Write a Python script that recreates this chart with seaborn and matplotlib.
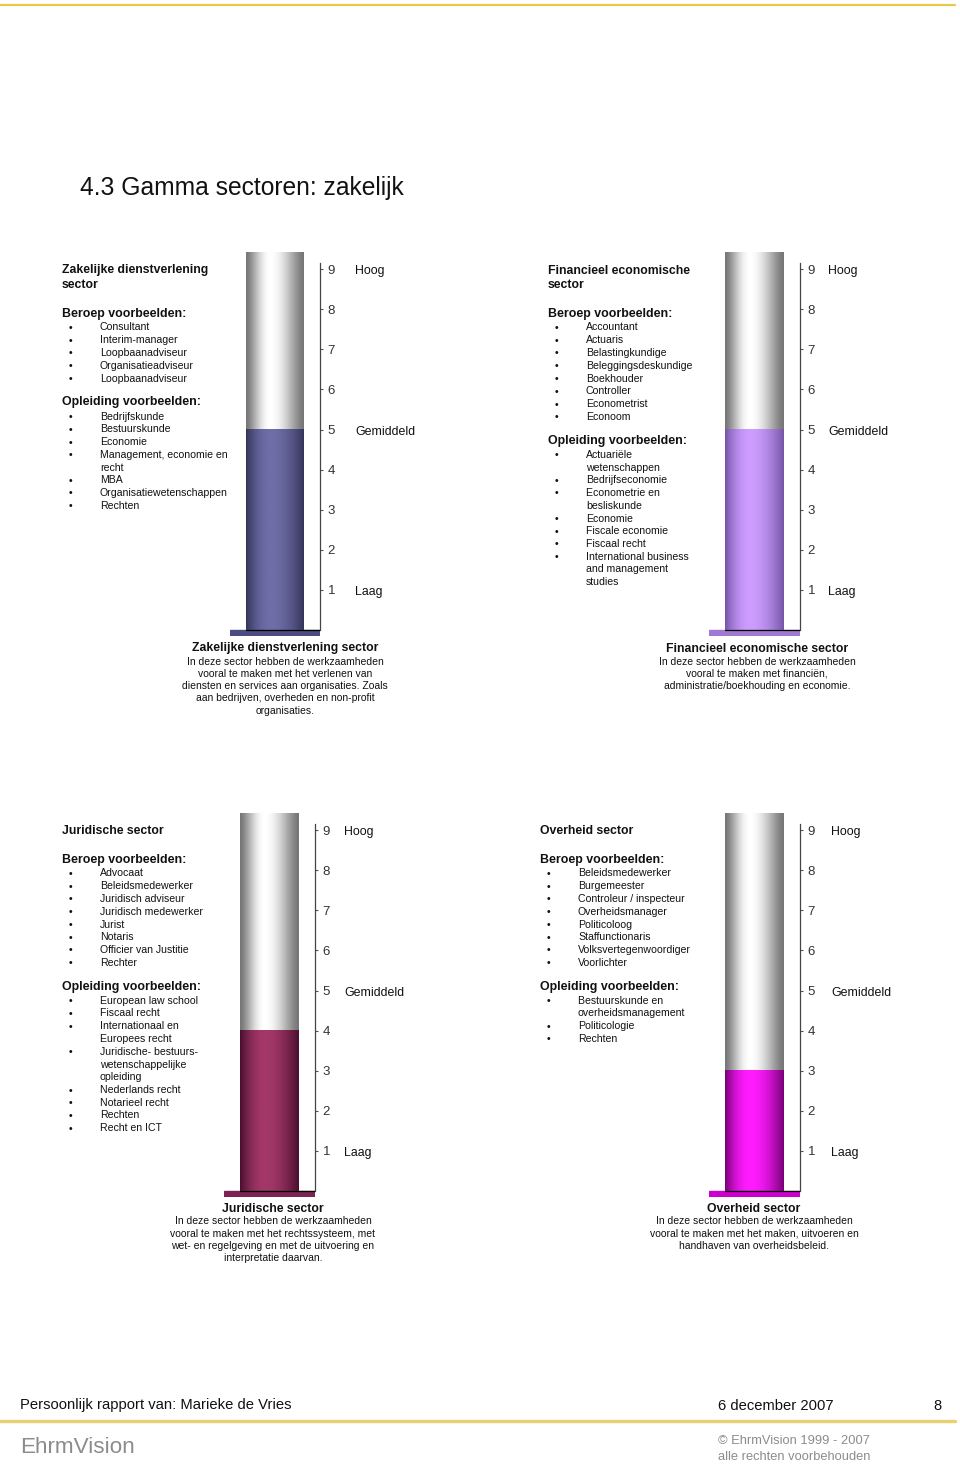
import numpy as np
import matplotlib
matplotlib.use("Agg")
import matplotlib.pyplot as plt
import matplotlib.transforms as mtransforms
from matplotlib.colors import LinearSegmentedColormap
import seaborn as sns

# ---- data -------------------------------------------------------------
sectors = ["Zakelijke dienstverlening sector", "Financieel economische sector",
           "Juridische sector", "Overheid sector"]
headers = ["Zakelijke dienstverlening\nsector", "Financieel economische\nsector",
           "Juridische sector", "Overheid sector"]
scores = [5, 5, 4, 3]
scale_ticks = [1, 2, 3, 4, 5, 6, 7, 8, 9]
level_values = [9, 5, 1]
level_labels = ["Hoog", "Gemiddeld", "Laag"]

beroepen = [
    ["Consultant", "Interim-manager", "Loopbaanadviseur", "Organisatieadviseur",
     "Loopbaanadviseur"],
    ["Accountant", "Actuaris", "Belastingkundige", "Beleggingsdeskundige",
     "Boekhouder", "Controller", "Econometrist", "Econoom"],
    ["Advocaat", "Beleidsmedewerker", "Juridisch adviseur", "Juridisch medewerker",
     "Jurist", "Notaris", "Officier van Justitie", "Rechter"],
    ["Beleidsmedewerker", "Burgemeester", "Controleur / inspecteur",
     "Overheidsmanager", "Politicoloog", "Staffunctionaris",
     "Volksvertegenwoordiger", "Voorlichter"],
]
opleidingen = [
    ["Bedrijfskunde", "Bestuurskunde", "Economie", "Management, economie en\nrecht",
     "MBA", "Organisatiewetenschappen", "Rechten"],
    ["Actuariële\nwetenschappen", "Bedrijfseconomie", "Econometrie en\nbesliskunde",
     "Economie", "Fiscale economie", "Fiscaal recht",
     "International business\nand management\nstudies"],
    ["European law school", "Fiscaal recht", "Internationaal en\nEuropees recht",
     "Juridische- bestuurs-\nwetenschappelijke\nopleiding", "Nederlands recht",
     "Notarieel recht", "Rechten", "Recht en ICT"],
    ["Bestuurskunde en\noverheidsmanagement", "Politicologie", "Rechten"],
]
descriptions = [
    "In deze sector hebben de werkzaamheden\nvooral te maken met het verlenen van\n"
    "diensten en services aan organisaties. Zoals\naan bedrijven, overheden en non-profit\n"
    "organisaties.",
    "In deze sector hebben de werkzaamheden\nvooral te maken met financiën,\n"
    "administratie/boekhouding en economie.",
    "In deze sector hebben de werkzaamheden\nvooral te maken met het rechtssysteem, met\n"
    "wet- en regelgeving en met de uitvoering en\ninterpretatie daarvan.",
    "In deze sector hebben de werkzaamheden\nvooral te maken met het maken, uitvoeren en\n"
    "handhaven van overheidsbeleid.",
]

# ---- styling / layout (pixels) ---------------------------------------
tube_colors = [("#34345a", "#6e6ea8", "#4c4c80"),
               ("#7454a6", "#cc9cff", "#a07ad2"),
               ("#480e2e", "#a33868", "#7c2352"),
               ("#760076", "#ff1cff", "#cc00cc")]
axes_px = [(230, 252, 90, 384), (709, 252, 91, 384),
           (224, 813, 91, 384), (709, 813, 91, 384)]
label_offset = [35, 28, 29, 31]
text_x = [62, 548, 62, 540]
header_y = [269, 269, 830, 830]
caption_x = [285, 757, 273, 754]
caption_y = [647, 647, 1207, 1207]

W, H = 960, 1464
sns.set_style("white")
plt.rcParams["font.family"] = ["Liberation Sans", "DejaVu Sans"]

fig = plt.figure(figsize=(W / 100, H / 100), dpi=100)


def ftext(x, y, s, **kw):
    fig.text(x / W, 1 - (y + 1.5) / H, s, va="center", **kw)


def shade(power, n=200, peak=0.42):
    t = np.linspace(0, 1, n)
    s = np.where(t < peak, t / peak * 0.5, 0.5 + (t - peak) / (1 - peak) * 0.5)
    return (np.sin(np.pi * s) ** power)[None, :]


grey_cmap = LinearSegmentedColormap.from_list("grey", ["#767676", "#ffffff"])
YTOP, YBOT = 9.43, -0.15
LINE = 12.75

for i, sector in enumerate(sectors):
    # ---- thermometer ----
    lx, ty, aw, ah = axes_px[i]
    ax = fig.add_axes([lx / W, 1 - (ty + ah) / H, aw / W, ah / H])
    dark, light, plate = tube_colors[i]
    cmap = LinearSegmentedColormap.from_list(f"c{i}", [dark, light])

    sns.barplot(x=[sector], y=[YTOP], width=0.644, color="white", ax=ax)
    sns.barplot(x=[sector], y=[scores[i]], width=0.644, color=light, ax=ax)
    full, bar = ax.patches[0], ax.patches[1]
    bx, bw, bh = bar.get_x(), bar.get_width(), bar.get_height()
    for p in (full, bar):
        p.set_facecolor("none")
        p.set_edgecolor("none")
    ax.imshow(shade(1.4), cmap=grey_cmap, aspect="auto",
              extent=[bx, bx + bw, bh, YTOP], zorder=1)
    ax.imshow(shade(0.9), cmap=cmap, aspect="auto",
              extent=[bx, bx + bw, 0, bh], zorder=2)
    ax.axhspan(YBOT, 0, xmin=0, xmax=0.99, color=plate, zorder=2)
    ax.axhline(0, xmin=(bx + 0.5), xmax=1, color="black", lw=0.9, zorder=3)

    ax.set_xlim(-0.5, 0.5)
    ax.set_ylim(YBOT, YTOP)
    for side in ("left", "top", "bottom"):
        ax.spines[side].set_visible(False)
    ax.spines["right"].set_bounds(0, 9.15)
    ax.spines["right"].set_color("#444444")
    ax.spines["right"].set_linewidth(0.9)
    ax.yaxis.tick_right()
    ax.set_yticks(scale_ticks)
    ax.tick_params(axis="y", direction="out", length=2.5, width=0.8, colors="#555555",
                   labelsize=9.5, labelcolor="#333333", pad=3)
    ax.set_xticks([])
    ax.set_xlabel("")
    ax.set_ylabel("")
    trans = mtransforms.offset_copy(ax.get_yaxis_transform(), fig=fig,
                                    x=label_offset[i], y=-2, units="dots")
    for v, lab in zip(level_values, level_labels):
        ax.text(1, v, lab, transform=trans, va="center", ha="left", fontsize=8.9,
                color="#111111", clip_on=False)

    # ---- left text column ----
    x0 = text_x[i]
    y = header_y[i]
    for line in headers[i].split("\n"):
        ftext(x0, y, line, fontsize=8.85, fontweight="bold", color="#111111")
        last = y
        y += 15
    y = last + 28
    for title, items in (("Beroep voorbeelden:", beroepen[i]),
                         ("Opleiding voorbeelden:", opleidingen[i])):
        ftext(x0, y, title, fontsize=8.9, fontweight="bold", color="#111111")
        y += 14
        for item in items:
            for k, line in enumerate(item.split("\n")):
                if k == 0:
                    ftext(x0 + 7, y + 0.5, "•", fontsize=7.5, color="#111111")
                ftext(x0 + 38, y, line, fontsize=7.6, color="#111111")
                y += LINE
        y += 24 - LINE

    # ---- caption under the tube ----
    cy = caption_y[i]
    ftext(caption_x[i], cy, sector, fontsize=8.8, fontweight="bold", ha="center",
          color="#111111")
    for k, line in enumerate(descriptions[i].split("\n")):
        ftext(caption_x[i], cy + 13 + k * 12.25, line, fontsize=7.5, ha="center",
              color="#111111")

# ---- page decoration ----
fig.add_artist(plt.Line2D([0, 955 / W], [1 - 5 / H, 1 - 5 / H], color="#e8c84a", lw=1.6))
fig.add_artist(plt.Line2D([0, 955 / W], [1 - 1421 / H, 1 - 1421 / H], color="#e8d070",
                          lw=2.4))
ftext(80, 187, "4.3 Gamma sectoren: zakelijk", fontsize=17.7, color="#111111")
ftext(20, 1404, "Persoonlijk rapport van: Marieke de Vries", fontsize=10.6,
      color="#111111")
ftext(718, 1404, "6 december 2007", fontsize=10.6, color="#111111")
ftext(941, 1404, "8", fontsize=10.6, color="#111111", ha="right")
ftext(20, 1446, "EhrmVision", fontsize=16.2, color="#8c8c8c")
ftext(718, 1440, "© EhrmVision 1999 - 2007", fontsize=9.3, color="#8c8c8c")
ftext(718, 1456, "alle rechten voorbehouden", fontsize=9.3, color="#8c8c8c")

fig.savefig("out.png", dpi=100)
